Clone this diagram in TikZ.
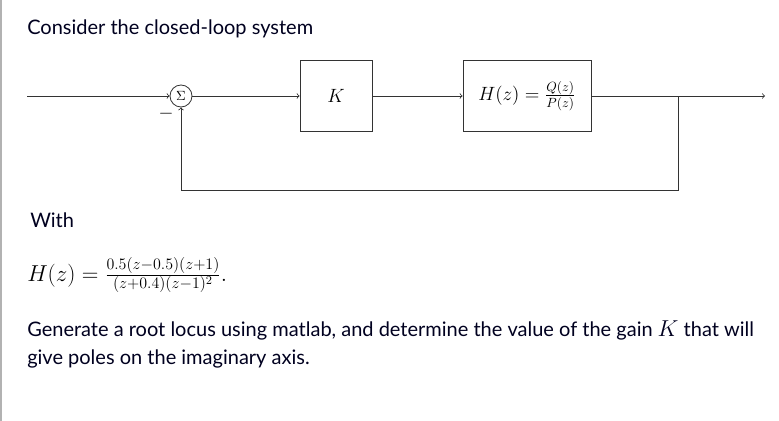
\documentclass[tikz,border=0pt]{standalone}
\usepackage{fontspec}
\setmainfont{Lato}
\usepackage{amsmath}
\begin{document}
\begin{tikzpicture}[x=0.75pt,y=-0.75pt,
  blk/.style={draw=black!80,semithick,minimum width=72*0.75pt,minimum height=71*0.75pt,inner sep=0pt},
  sig/.style={draw=black!80,semithick,->,>=to},
  txt/.style={text=black!80!blue!60!black,anchor=base west,inner sep=0pt,font=\fontsize{15}{18}\selectfont}]
\useasboundingbox (0,0) rectangle (779,421);
\draw[gray!60,line width=1.2pt] (1,0) -- (1,421);
\node[txt] (t1) at (27,35) {Consider the closed-loop system};
\coordinate (in) at (27,96);
\node[draw=black!80,semithick,circle,inner sep=0pt,minimum size=22*0.75pt,font=\normalsize] (s) at (181,96) {$\Sigma$};
\node[blk] (k) at (336,96) {\Large $K$};
\node[blk,minimum width=128*0.75pt] (h) at (527,96) {\Large $H(z)=\frac{Q(z)}{P(z)}$};
\coordinate (sp) at (678,96);
\coordinate (out) at (765,96);
\coordinate (b1) at (678,190);
\coordinate (b2) at (181,190);
\draw[sig] (in) -- (s);
\draw[sig] (s) -- (k);
\draw[sig] (k) -- (h);
\draw[sig] (h) -- (out);
\draw[sig] (sp) -- (b1) -- (b2) -- (s);
\node[font=\Large] (m) at (166,114) {$-$};
\node[txt] (t2) at (30,227) {With};
\node[anchor=base west,inner sep=0pt,font=\fontsize{17.5}{20}\selectfont] (eq) at (27,281) {$H(z)=\frac{0.5(z-0.5)(z+1)}{(z+0.4)(z-1)^2}.$};
\node[txt] (t3) at (27,336) {Generate a root locus using matlab, and determine the value of the gain {\fontsize{17}{18}\selectfont$K$} that will};
\node[txt] (t4) at (27,364) {give poles on the imaginary axis.};
\end{tikzpicture}
\end{document}
